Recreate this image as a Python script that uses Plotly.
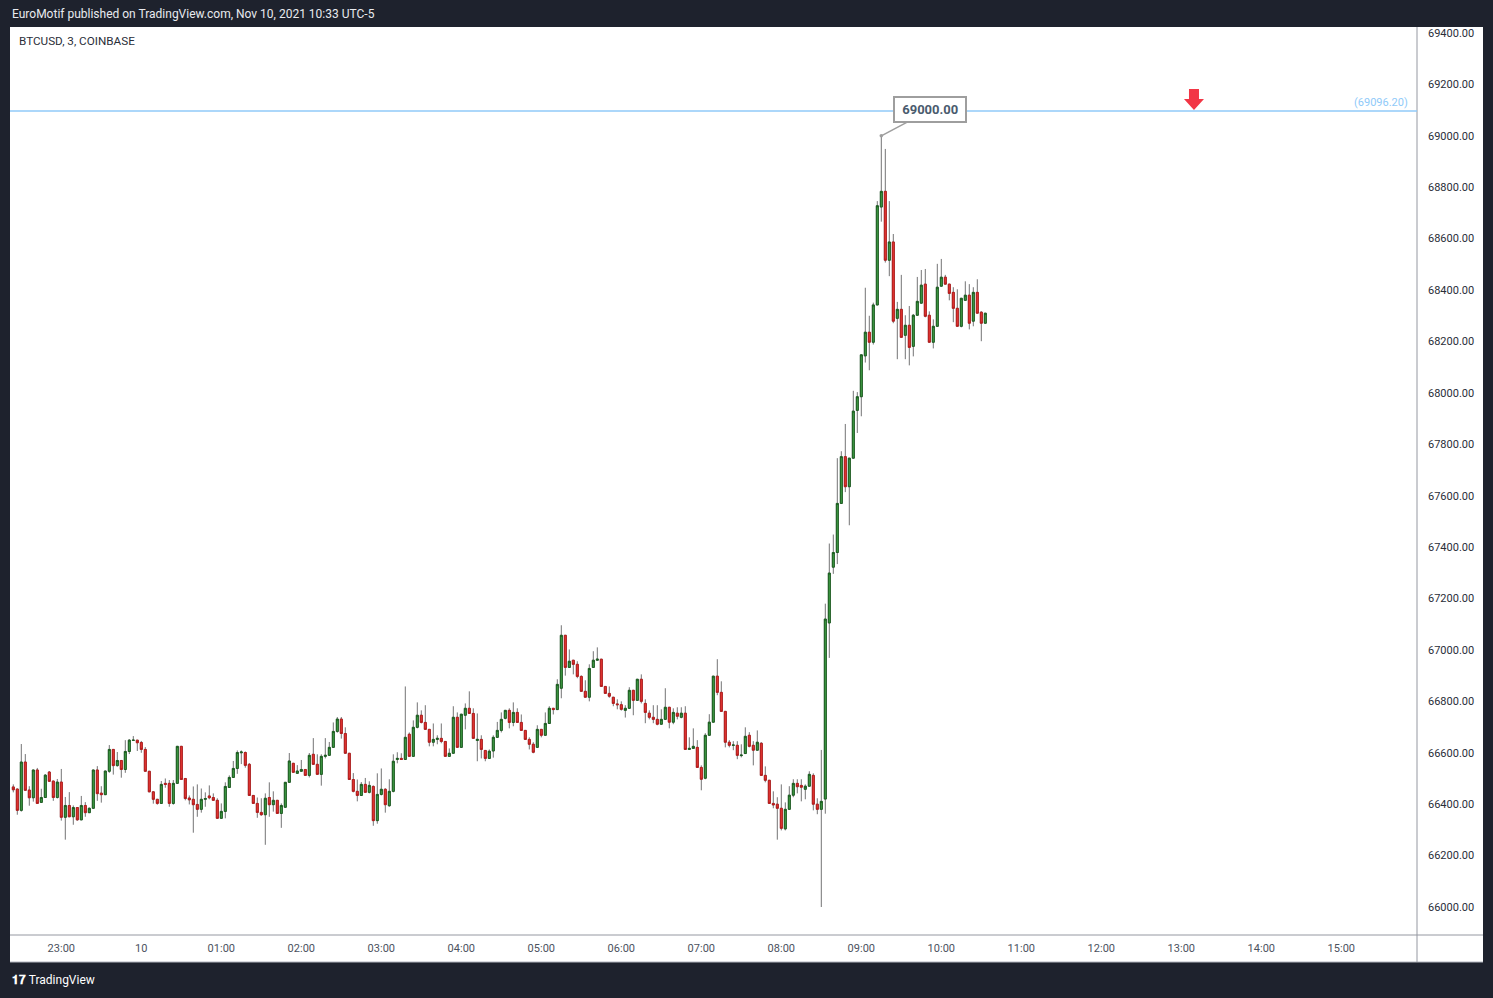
import plotly.graph_objects as go
import pandas as pd

W, H = 1493, 998

# ---------------- data (BTCUSD 3-min bars, COINBASE) ----------------
bar_start = "2021-11-09 22:24"
bar_freq = "3min"

open_ = [66467, 66459, 66376, 66564, 66455, 66425, 66533, 66407, 66426, 66525,
         66490, 66426, 66486, 66349, 66395, 66351, 66387, 66339, 66395, 66367,
         66384, 66533, 66443, 66437, 66528, 66613, 66550, 66570, 66535, 66605,
         66648, 66649, 66640, 66613, 66528, 66448, 66419, 66403, 66481, 66481,
         66403, 66481, 66625, 66500, 66424, 66419, 66399, 66380, 66419, 66432,
         66426, 66415, 66345, 66372, 66465, 66504, 66539, 66600, 66601, 66555,
         66434, 66403, 66368, 66359, 66426, 66398, 66415, 66364, 66388, 66485,
         66559, 66520, 66528, 66535, 66512, 66594, 66555, 66516, 66586, 66590,
         66621, 66683, 66731, 66675, 66598, 66496, 66450, 66434, 66477, 66446,
         66469, 66336, 66438, 66458, 66394, 66450, 66574, 66578, 66574, 66672,
         66586, 66699, 66746, 66718, 66691, 66641, 66652, 66656, 66644, 66586,
         66598, 66738, 66621, 66746, 66773, 66753, 66648, 66652, 66609, 66578,
         66607, 66660, 66687, 66734, 66765, 66718, 66757, 66718, 66687, 66652,
         66633, 66621, 66691, 66668, 66714, 66773, 66768, 66851, 67057, 66932,
         66960, 66944, 66897, 66839, 66816, 66932, 66960, 66964, 66858, 66831,
         66816, 66790, 66787, 66765, 66773, 66843, 66804, 66886, 66792, 66754,
         66738, 66730, 66711, 66730, 66777, 66719, 66754, 66738, 66754, 66613,
         66617, 66621, 66543, 66501, 66668, 66719, 66898, 66835, 66761, 66641,
         66629, 66629, 66589, 66597, 66668, 66629, 66610, 66637, 66512, 66493,
         66403, 66400, 66384, 66304, 66380, 66435, 66481, 66473, 66458, 66470,
         66512, 66400, 66380, 66420, 67105, 67322, 67379, 67570, 67752, 67635,
         67746, 67932, 67985, 68144, 68236, 68197, 68342, 68723, 68784, 68516,
         68587, 68290, 68325, 68224, 68263, 68181, 68302, 68349, 68423, 68302,
         68197, 68259, 68415, 68450, 68423, 68391, 68329, 68259, 68360, 68380,
         68279, 68391, 68314, 68271]

high = [66477, 66459, 66634, 66595, 66470, 66533, 66541, 66460, 66517, 66529,
        66490, 66498, 66537, 66428, 66447, 66395, 66387, 66432, 66408, 66387,
        66533, 66548, 66470, 66529, 66630, 66613, 66603, 66570, 66649, 66653,
        66665, 66649, 66646, 66622, 66528, 66448, 66419, 66490, 66500, 66494,
        66494, 66625, 66625, 66500, 66434, 66469, 66477, 66461, 66446, 66473,
        66442, 66423, 66403, 66485, 66512, 66568, 66609, 66609, 66605, 66560,
        66434, 66426, 66423, 66442, 66485, 66450, 66415, 66403, 66485, 66599,
        66559, 66552, 66572, 66535, 66599, 66657, 66594, 66594, 66657, 66642,
        66718, 66739, 66739, 66699, 66598, 66521, 66496, 66486, 66502, 66489,
        66473, 66520, 66539, 66462, 66497, 66594, 66602, 66598, 66858, 66679,
        66726, 66796, 66765, 66785, 66691, 66714, 66668, 66714, 66644, 66617,
        66781, 66757, 66750, 66792, 66839, 66773, 66753, 66668, 66609, 66613,
        66668, 66720, 66757, 66765, 66773, 66796, 66773, 66749, 66687, 66660,
        66641, 66707, 66691, 66757, 66781, 66773, 66886, 67096, 67057, 67002,
        66960, 66956, 66901, 66882, 66944, 66995, 67010, 66964, 66858, 66858,
        66816, 66808, 66800, 66785, 66855, 66843, 66886, 66905, 66808, 66765,
        66785, 66785, 66769, 66851, 66777, 66773, 66777, 66777, 66781, 66660,
        66695, 66649, 66551, 66676, 66750, 66898, 66964, 66878, 66761, 66649,
        66645, 66645, 66633, 66699, 66680, 66645, 66687, 66641, 66547, 66493,
        66450, 66427, 66477, 66407, 66470, 66497, 66497, 66497, 66477, 66528,
        66520, 66423, 66611, 67180, 67414, 67449, 67746, 67773, 67879, 67746,
        68008, 68003, 68148, 68409, 68300, 68351, 68746, 69000, 68949, 68746,
        68618, 68354, 68459, 68302, 68338, 68307, 68451, 68478, 68482, 68317,
        68286, 68502, 68521, 68459, 68423, 68411, 68403, 68368, 68434, 68423,
        68411, 68442, 68317, 68310]

low = [66446, 66359, 66371, 66454, 66394, 66410, 66403, 66407, 66426, 66489,
       66413, 66422, 66336, 66262, 66351, 66320, 66336, 66339, 66351, 66367,
       66384, 66413, 66406, 66437, 66522, 66515, 66546, 66503, 66522, 66595,
       66648, 66607, 66600, 66528, 66448, 66402, 66398, 66403, 66464, 66390,
       66398, 66481, 66496, 66415, 66399, 66289, 66351, 66367, 66390, 66419,
       66415, 66345, 66345, 66345, 66465, 66504, 66518, 66556, 66542, 66434,
       66403, 66347, 66355, 66242, 66351, 66371, 66364, 66308, 66388, 66485,
       66524, 66520, 66528, 66512, 66504, 66555, 66516, 66472, 66578, 66590,
       66621, 66678, 66655, 66598, 66496, 66446, 66411, 66434, 66446, 66442,
       66316, 66324, 66434, 66367, 66390, 66446, 66559, 66574, 66574, 66586,
       66586, 66695, 66714, 66691, 66625, 66625, 66633, 66637, 66586, 66586,
       66598, 66621, 66621, 66691, 66753, 66656, 66567, 66578, 66567, 66578,
       66581, 66660, 66679, 66730, 66695, 66703, 66718, 66687, 66652, 66613,
       66598, 66621, 66660, 66668, 66714, 66749, 66768, 66812, 66900, 66932,
       66905, 66890, 66839, 66816, 66800, 66932, 66960, 66858, 66831, 66814,
       66781, 66769, 66764, 66737, 66773, 66746, 66804, 66792, 66715, 66730,
       66715, 66707, 66711, 66730, 66695, 66711, 66730, 66734, 66613, 66613,
       66617, 66543, 66454, 66497, 66668, 66719, 66824, 66761, 66621, 66621,
       66610, 66575, 66582, 66597, 66621, 66551, 66610, 66512, 66485, 66403,
       66384, 66262, 66298, 66298, 66380, 66427, 66442, 66411, 66419, 66470,
       66376, 66361, 66000, 66363, 66969, 67296, 67334, 67570, 67614, 67485,
       67746, 67844, 67909, 68118, 68088, 68188, 68342, 68666, 68507, 68454,
       68271, 68131, 68216, 68131, 68107, 68142, 68302, 68349, 68294, 68197,
       68173, 68259, 68415, 68423, 68360, 68275, 68259, 68255, 68360, 68247,
       68259, 68310, 68201, 68271]

close = [66456, 66376, 66564, 66454, 66425, 66533, 66403, 66426, 66513, 66489,
         66426, 66486, 66349, 66395, 66351, 66387, 66339, 66395, 66367, 66384,
         66533, 66441, 66437, 66529, 66613, 66550, 66570, 66535, 66605, 66649,
         66649, 66639, 66613, 66528, 66448, 66419, 66403, 66477, 66477, 66403,
         66481, 66625, 66496, 66422, 66417, 66398, 66380, 66419, 66422, 66425,
         66415, 66345, 66372, 66469, 66504, 66539, 66601, 66603, 66551, 66434,
         66403, 66368, 66359, 66423, 66398, 66415, 66364, 66395, 66485, 66568,
         66524, 66529, 66535, 66512, 66590, 66555, 66516, 66586, 66590, 66621,
         66683, 66731, 66675, 66598, 66496, 66450, 66434, 66477, 66446, 66473,
         66336, 66438, 66458, 66398, 66450, 66567, 66578, 66574, 66660, 66586,
         66699, 66746, 66718, 66691, 66641, 66652, 66656, 66644, 66586, 66598,
         66738, 66621, 66750, 66773, 66753, 66656, 66652, 66613, 66578, 66606,
         66660, 66687, 66730, 66765, 66718, 66757, 66718, 66687, 66652, 66633,
         66602, 66691, 66668, 66714, 66773, 66768, 66866, 67057, 66932, 66956,
         66944, 66897, 66839, 66816, 66928, 66960, 66964, 66858, 66831, 66820,
         66792, 66787, 66769, 66773, 66843, 66804, 66886, 66800, 66757, 66738,
         66730, 66711, 66730, 66777, 66719, 66757, 66742, 66754, 66613, 66617,
         66625, 66543, 66497, 66668, 66719, 66898, 66835, 66761, 66641, 66629,
         66630, 66590, 66591, 66664, 66625, 66610, 66641, 66512, 66493, 66403,
         66397, 66384, 66306, 66380, 66435, 66481, 66468, 66466, 66470, 66516,
         66400, 66380, 66411, 67120, 67299, 67379, 67570, 67752, 67635, 67746,
         67929, 67985, 68148, 68236, 68197, 68342, 68728, 68784, 68516, 68587,
         68279, 68325, 68216, 68263, 68177, 68302, 68356, 68419, 68298, 68197,
         68259, 68411, 68450, 68423, 68387, 68329, 68259, 68368, 68380, 68271,
         68391, 68310, 68271, 68310]

price_ticks = list(range(66000, 69401, 200))
time_tick_vals = ["2021-11-09 23:00", "2021-11-10 00:00", "2021-11-10 01:00",
                  "2021-11-10 02:00", "2021-11-10 03:00", "2021-11-10 04:00",
                  "2021-11-10 05:00", "2021-11-10 06:00", "2021-11-10 07:00",
                  "2021-11-10 08:00", "2021-11-10 09:00", "2021-11-10 10:00",
                  "2021-11-10 11:00", "2021-11-10 12:00", "2021-11-10 13:00",
                  "2021-11-10 14:00", "2021-11-10 15:00"]
time_tick_text = ["23:00", "10", "01:00", "02:00", "03:00", "04:00", "05:00",
                  "06:00", "07:00", "08:00", "09:00", "10:00", "11:00",
                  "12:00", "13:00", "14:00", "15:00"]

level_price = 69096.20
level_label = "(69096.20)"
peak_price = 69000.00
peak_label = "69000.00"
arrow_time = "2021-11-10 13:09:30"

header = "EuroMotif published on TradingView.com, Nov 10, 2021 10:33 UTC-5"
symbol = "BTCUSD, 3, COINBASE"

# ---------------- styling ----------------
BG = "#1e222d"
UP_FILL, UP_LINE = "#43a047", "#1b5e20"
DN_FILL, DN_LINE = "#e53935", "#b71c1c"
WICK = "#737375"
FRAME = "#9598a1"
FONT = "Roboto"

times = pd.date_range(bar_start, periods=len(open_), freq=bar_freq)
body_hi = [max(o, c) for o, c in zip(open_, close)]
body_lo = [min(o, c) for o, c in zip(open_, close)]

def px(x):
    return x / W

def py(y):
    return 1 - y / H

fig = go.Figure()

# wicks
fig.add_trace(go.Candlestick(
    x=times, open=open_, high=high, low=low, close=close,
    increasing=dict(line=dict(color=WICK, width=1), fillcolor=WICK),
    decreasing=dict(line=dict(color=WICK, width=1), fillcolor=WICK),
    hoverinfo="skip", showlegend=False))
# bodies
fig.add_trace(go.Candlestick(
    x=times, open=open_, high=body_hi, low=body_lo, close=close,
    increasing=dict(line=dict(color=UP_LINE, width=1), fillcolor=UP_FILL),
    decreasing=dict(line=dict(color=DN_LINE, width=1), fillcolor=DN_FILL),
    hoverinfo="skip", showlegend=False))

shapes = [
    # white chart panel
    dict(type="rect", xref="paper", yref="paper", x0=px(10), x1=px(1483),
         y0=py(962), y1=py(27), fillcolor="white", line=dict(width=0), layer="below"),
    # panel frame lines
    dict(type="line", xref="paper", yref="paper", x0=px(10), x1=px(1483),
         y0=py(935), y1=py(935), line=dict(color=FRAME, width=1)),
    dict(type="line", xref="paper", yref="paper", x0=px(10), x1=px(1483),
         y0=py(962), y1=py(962), line=dict(color="#b2b5be", width=1)),
    dict(type="line", xref="paper", yref="paper", x0=px(1417), x1=px(1417),
         y0=py(962), y1=py(27), line=dict(color=FRAME, width=1)),
    # horizontal level
    dict(type="line", xref="paper", yref="y", x0=px(10), x1=px(1417),
         y0=level_price, y1=level_price, line=dict(color="#90caf9", width=1.5)),
    # red down arrow
    dict(type="path", xref="x", yref="y", xsizemode="pixel", ysizemode="pixel",
         xanchor=arrow_time, yanchor=level_price,
         path="M -5,22 L 5,22 L 5,12 L 10,12 L 0,1 L -10,12 L -5,12 Z",
         fillcolor="#f23645", line=dict(width=0)),
]

annotations = [
    dict(text=header, xref="paper", yref="paper", x=px(10), y=py(14),
         xanchor="left", yanchor="middle", showarrow=False,
         font=dict(family=FONT, size=12, color="#e8eaef")),
    dict(text=symbol, xref="paper", yref="paper", x=px(17), y=py(41),
         xanchor="left", yanchor="middle", showarrow=False,
         font=dict(family=FONT, size=11.7, color="#2a2e39")),
    dict(text=level_label, xref="paper", yref="y", x=px(1410), y=level_price,
         xanchor="right", yanchor="bottom", yshift=0, showarrow=False,
         font=dict(family=FONT, size=11, color="#90caf9")),
    dict(text="&nbsp;<b>" + peak_label + "</b>&nbsp;", x=times[high.index(max(high))], y=peak_price,
         xref="x", yref="y", showarrow=True, ax=49, ay=-26,
         arrowhead=6, arrowsize=0.6, arrowwidth=1.5, arrowcolor="#9e9e9e",
         bgcolor="white", bordercolor="#9e9e9e", borderwidth=2, borderpad=4,
         font=dict(family=FONT, size=13, color="#4a5b6e")),
    dict(text="<b>𝟏𝟕</b> TradingView", xref="paper", yref="paper", x=px(10), y=py(980),
         xanchor="left", yanchor="middle", showarrow=False,
         font=dict(family=FONT, size=12, color="#ffffff")),
]

fig.update_layout(
    width=W, height=H,
    margin=dict(l=0, r=0, t=0, b=0),
    paper_bgcolor=BG, plot_bgcolor="white",
    shapes=shapes, annotations=annotations,
    showlegend=False,
    xaxis=dict(domain=[px(10), px(1417)],
               range=["2021-11-09 22:21:31", "2021-11-10 15:56:46"],
               rangeslider=dict(visible=False),
               tickmode="array", tickvals=time_tick_vals, ticktext=time_tick_text,
               showgrid=False, zeroline=False, showline=False, ticks="",
               ticklabelstandoff=5,
               tickfont=dict(family=FONT, size=11, color="#4c525e")),
    yaxis=dict(domain=[py(935), py(27)], range=[65891.1, 69423.3],
               side="right", tickmode="array", tickvals=price_ticks,
               tickformat=".2f", showgrid=False, zeroline=False, showline=False,
               ticks="", ticklabelstandoff=10,
               tickfont=dict(family=FONT, size=11, color="#2a2e39")),
)

fig.write_html("out.html",
               config={"displayModeBar": False},
               post_script="document.body.style.margin='0px';document.body.style.overflow='hidden';")
